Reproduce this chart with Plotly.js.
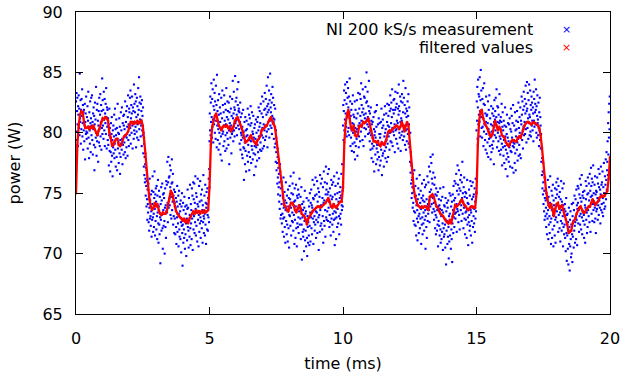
<!DOCTYPE html>
<html>
<head>
<meta charset="utf-8">
<script src="https://cdn.plot.ly/plotly-3.0.1.min.js"></script>
<style>html,body{margin:0;padding:0;background:#fff;}#chart{width:624px;height:376px;}</style>
</head>
<body>
<div id="chart"></div>
<script>
// sampling grid (ms)
const blueStart = 0, blueStep = 0.01;
const redStart = 0, redStep = 0.05;

// NI 200 kS/s measurement (W), 0-5 ms
const blueP1 = [
82.6,80.1,83.3,79.4,81.8,82.9,80.7,78.9,82.2,81.5,
83.1,80.4,82.0,79.8,84.9,81.2,80.9,82.7,79.1,81.9,
80.3,82.8,81.4,83.6,79.7,80.8,82.3,78.6,81.7,80.2,
81.9,79.3,80.6,82.4,77.8,80.9,81.6,79.9,83.0,80.1,
79.5,81.3,80.0,82.2,78.7,81.0,83.4,79.6,80.5,77.9,
81.7,80.2,79.1,82.6,80.8,78.4,81.2,82.9,79.8,80.6,
83.1,79.4,80.9,78.2,81.6,80.3,82.1,79.0,81.4,76.9,
80.7,82.5,78.8,81.1,79.6,83.8,80.0,78.1,81.9,79.3,
82.4,79.8,81.0,77.6,80.6,81.8,79.2,82.9,80.3,78.9,
81.5,83.2,79.7,80.9,82.3,78.6,81.8,80.4,84.5,79.9,
82.7,80.6,81.9,79.5,83.4,81.1,80.2,82.8,78.9,81.6,
80.8,82.4,79.9,83.7,81.3,78.7,82.1,80.5,81.9,79.4,
81.2,79.0,80.7,77.3,79.8,82.0,78.5,80.4,76.8,79.6,
78.4,80.8,77.6,79.9,81.3,78.1,79.4,76.4,80.2,78.8,
80.6,78.3,79.7,81.5,77.9,79.1,82.0,78.6,80.3,77.2,
79.8,81.1,78.0,80.4,76.9,79.5,82.4,78.7,80.0,79.2,
77.5,79.9,81.2,78.3,80.5,76.6,79.4,78.0,81.7,79.1,
80.2,78.6,82.1,79.5,77.4,80.8,79.0,81.4,78.2,80.6,
81.5,79.2,80.3,78.4,82.6,79.7,77.9,80.9,81.8,78.8,
79.6,82.2,80.5,78.1,81.3,83.1,79.4,80.7,78.9,82.0,
81.7,79.8,82.9,80.4,83.5,79.1,81.2,82.3,80.0,81.6,
83.0,80.6,78.7,82.1,80.9,81.8,79.5,84.0,80.2,82.4,
79.9,81.7,83.2,80.5,82.6,78.8,81.3,80.1,82.9,79.6,
82.2,80.7,81.5,83.7,79.4,81.9,84.6,80.3,82.5,80.8,
81.1,83.0,79.7,82.4,80.6,81.8,78.9,82.7,80.2,81.4,
79.8,82.1,78.3,80.0,77.2,79.1,76.5,78.0,75.9,77.4,
76.2,74.8,77.1,75.6,73.9,76.0,74.5,72.8,75.3,74.1,
73.4,75.8,72.6,74.7,71.9,73.8,76.2,72.9,74.4,73.1,
72.3,74.9,73.5,71.4,75.2,72.8,74.1,76.4,73.0,71.8,
75.1,73.3,72.2,74.6,76.8,73.7,71.5,74.9,72.7,75.4,
74.3,72.0,75.6,73.1,71.2,74.8,73.4,76.1,72.5,70.9,
73.9,75.2,72.4,71.6,74.7,73.0,69.2,74.1,72.8,75.5,
71.9,74.4,73.2,75.8,72.1,70.4,74.9,73.6,72.3,75.0,
74.6,72.7,70.0,73.8,75.4,72.2,74.0,71.3,76.0,73.5,
75.7,73.4,77.6,74.2,72.6,75.9,78.0,73.8,76.3,74.5,
76.4,74.0,77.3,75.5,73.2,76.9,74.7,72.9,75.8,77.8,
73.6,75.9,74.3,76.6,72.4,74.8,73.1,75.3,71.7,74.2,
72.9,75.1,71.6,73.8,74.6,72.2,70.8,74.3,73.0,75.6,
71.8,73.9,72.5,74.8,70.6,73.3,75.2,72.0,71.4,74.1,
73.5,71.2,74.4,72.6,70.1,73.9,72.3,75.0,71.7,69.0,
72.4,74.2,70.9,73.6,72.0,71.3,74.7,72.8,70.4,73.9,
71.6,73.3,72.5,69.8,74.0,72.9,71.1,73.7,75.3,72.2,
73.8,71.9,70.5,74.6,72.7,71.4,73.2,75.7,72.1,70.7,
74.1,72.5,73.6,71.2,75.4,72.9,74.8,70.3,73.3,75.9,
72.0,74.5,73.1,75.8,71.7,74.2,72.6,76.4,73.7,71.5,
75.0,72.3,74.7,73.4,71.0,74.1,76.2,72.8,73.9,70.6,
73.2,75.6,71.8,74.3,72.5,76.0,73.0,71.3,74.9,72.7,
74.4,72.1,75.3,73.6,70.9,74.0,72.6,76.5,73.1,71.7,
72.9,74.8,73.3,71.5,75.7,72.4,74.2,70.8,73.8,75.1,
74.1,72.0,75.4,73.2,71.9,74.6,73.0,76.2,72.6,77.0
];
// 5-10 ms
const blueP2 = [
79.3,81.6,80.2,83.0,79.8,82.5,80.9,84.1,81.3,79.6,
82.8,80.5,83.6,81.1,79.2,82.2,84.4,80.7,81.9,83.3,
80.0,82.6,81.4,79.5,83.9,81.0,82.3,78.8,84.8,80.6,
81.8,79.4,82.7,80.3,78.6,81.5,83.2,80.0,79.1,82.1,
80.9,78.2,81.6,79.7,82.9,80.4,77.7,81.2,83.5,79.9,
82.3,80.1,78.9,81.7,80.6,83.1,79.3,81.0,82.4,78.5,
79.8,81.9,80.7,83.7,78.7,81.3,80.0,82.6,79.5,81.8,
81.1,79.0,82.5,80.2,77.4,81.7,80.8,83.0,79.6,80.4,
82.0,80.6,78.3,81.4,79.9,82.8,80.1,84.3,81.2,79.3,
81.6,83.4,80.2,82.1,79.7,81.9,84.7,80.8,82.6,81.0,
80.4,82.9,81.5,79.8,83.6,81.1,82.3,80.6,84.2,81.8,
82.0,80.3,81.7,79.1,80.9,82.5,78.6,81.3,80.0,79.4,
79.8,81.6,78.2,80.5,77.9,79.6,81.9,78.8,80.1,76.1,
78.7,80.9,79.2,77.4,81.3,78.5,80.2,76.8,79.7,81.0,
80.3,78.1,79.8,82.0,77.6,79.0,80.7,78.4,81.5,76.9,
79.4,81.2,78.0,80.6,82.2,79.3,77.5,80.8,78.9,81.7,
78.6,80.1,77.8,79.9,81.4,78.3,79.6,76.5,80.4,78.9,
80.7,78.2,79.5,77.2,81.1,78.8,80.0,79.3,77.7,80.9,
79.0,81.3,78.4,80.2,82.1,79.7,77.9,80.5,81.8,78.6,
80.8,79.2,82.4,80.0,78.5,81.6,79.8,83.0,80.4,78.7,
81.3,79.6,82.6,80.7,78.9,81.9,80.2,83.3,79.4,82.0,
80.5,82.8,79.7,81.5,83.9,80.1,82.2,78.8,81.7,84.6,
82.4,80.3,81.9,83.5,79.6,82.7,81.0,84.9,80.6,82.1,
81.7,83.2,80.4,82.5,79.9,81.4,83.8,80.8,82.9,81.2,
80.9,79.5,82.3,81.1,78.8,80.4,82.0,79.1,77.6,80.2,
78.4,76.9,79.2,77.5,75.8,78.0,76.3,74.9,77.1,75.5,
76.6,74.3,75.9,73.7,77.4,74.8,72.9,75.4,73.2,76.0,
74.1,72.5,75.6,73.3,71.8,74.6,72.9,76.3,73.8,71.4,
73.0,75.1,72.2,74.4,70.9,73.6,75.9,72.7,74.2,71.6,
74.8,72.4,73.5,71.0,75.3,73.9,72.1,74.6,70.5,73.2,
75.6,73.1,74.5,72.3,76.4,73.8,71.5,75.0,74.2,72.7,
73.4,75.8,72.6,74.9,71.9,76.7,73.2,74.3,70.8,75.4,
72.8,74.4,71.3,73.9,75.7,72.1,73.6,70.6,74.8,72.5,
74.6,72.2,75.3,73.0,71.7,74.9,73.5,76.2,72.4,74.0,
72.9,74.7,71.2,73.7,75.5,72.4,69.5,74.1,73.0,71.8,
73.6,71.4,74.3,72.0,70.2,73.8,72.7,75.2,71.1,73.3,
71.9,73.5,70.6,72.8,74.6,71.3,69.8,73.1,72.2,70.9,
72.6,74.4,71.5,73.9,70.7,72.3,75.0,73.4,71.0,74.2,
73.0,75.3,72.1,74.0,71.6,73.8,76.1,72.9,74.6,70.8,
74.5,72.6,75.7,73.1,71.9,74.8,72.4,76.3,73.5,71.3,
72.8,74.9,73.4,76.0,71.7,74.3,72.6,75.4,73.0,70.3,
75.1,73.2,74.7,71.8,76.5,73.6,72.3,75.8,74.0,72.5,
73.9,76.2,72.0,74.6,73.1,75.5,70.9,74.2,76.8,72.7,
74.4,72.3,75.9,73.6,71.4,74.9,77.2,73.0,75.3,72.8,
75.8,73.5,74.9,76.6,72.7,75.1,73.8,77.0,74.3,72.2,
73.2,75.4,72.6,74.8,71.5,73.9,76.1,72.9,74.5,75.7,
72.4,74.7,73.3,75.9,71.8,74.1,72.8,76.4,73.5,70.7,
74.9,72.9,75.6,73.4,71.2,74.5,73.0,76.7,72.2,75.0,
73.7,75.8,72.5,74.3,76.2,73.1,71.6,75.1,74.6,72.9,
75.5,73.3,74.8,72.4,76.6,74.0,73.6,77.4,75.2,73.9
];
// 10-15 ms
const blueP3 = [
80.6,82.3,79.4,81.8,83.5,80.2,82.7,81.1,84.0,79.9,
81.6,83.3,80.5,82.4,79.7,84.2,81.3,82.9,80.1,83.7,
82.1,80.4,83.0,79.8,81.7,84.5,80.9,82.6,78.9,81.4,
79.6,81.9,80.2,78.5,82.4,80.8,79.1,83.1,80.0,81.5,
80.7,78.4,81.3,79.2,82.6,77.8,80.4,81.9,78.9,80.1,
81.2,79.5,82.7,80.3,78.1,81.6,79.9,83.3,80.6,78.8,
79.7,82.0,80.8,83.2,79.3,81.4,82.8,80.1,84.1,81.0,
82.3,80.6,81.7,79.4,83.6,80.9,82.0,78.9,81.5,83.0,
80.4,82.9,81.2,79.7,83.8,81.6,80.3,82.5,85.0,81.1,
82.6,80.7,83.4,81.3,79.9,82.2,80.5,84.3,81.8,80.0,
79.3,81.6,80.2,78.6,82.1,79.8,81.0,77.9,80.7,79.1,
78.7,80.9,79.5,77.6,81.3,78.9,80.3,76.8,79.8,81.7,
80.1,78.2,79.6,81.8,77.4,80.5,78.7,82.3,79.0,77.8,
78.4,80.7,79.3,76.9,81.2,78.0,79.9,80.8,77.3,79.6,
79.9,77.7,80.9,78.6,82.0,79.2,76.5,80.4,78.1,81.1,
78.3,80.6,79.0,77.2,81.5,79.7,78.5,82.2,80.0,77.9,
80.3,78.8,81.6,79.4,77.6,80.9,82.4,79.1,80.6,78.0,
81.4,79.7,82.3,80.5,78.6,81.8,80.0,83.1,79.3,82.0,
80.8,82.5,79.2,81.3,83.6,80.4,78.9,81.9,80.1,82.7,
81.6,79.8,82.8,80.7,78.4,81.9,83.4,80.2,82.1,79.5,
80.3,82.4,81.0,79.1,83.3,80.8,82.0,78.7,81.5,84.0,
82.2,80.0,81.8,79.6,83.0,80.9,78.5,82.6,81.2,79.8,
81.0,83.2,80.1,82.5,79.4,81.7,84.3,80.6,82.9,79.7,
80.5,82.3,79.0,81.6,83.7,80.2,78.6,82.0,81.3,79.3,
81.8,80.3,82.6,79.9,81.4,83.2,79.1,80.7,82.1,78.8,
79.2,77.6,80.0,76.7,78.4,75.8,77.3,74.6,76.1,75.0,
75.5,73.8,76.6,74.2,72.7,75.1,73.5,76.9,72.4,74.7,
73.4,75.6,72.3,74.8,71.5,74.0,76.2,72.9,73.6,71.1,
74.5,72.6,75.4,73.1,71.7,74.9,73.3,76.5,72.1,74.2,
72.9,75.2,73.7,70.8,74.6,72.4,75.8,73.0,71.6,74.4,
74.8,72.5,73.4,76.1,71.9,74.3,72.8,75.5,73.6,70.4,
73.1,75.7,72.2,74.5,71.3,73.9,76.4,72.7,74.1,73.3,
75.9,73.6,77.2,74.4,72.6,75.1,76.8,73.9,78.0,74.7,
75.3,77.5,74.1,76.2,73.4,75.8,78.2,74.6,76.7,73.7,
74.2,72.8,75.7,73.5,76.3,72.1,74.9,73.2,71.6,75.4,
73.0,74.8,71.9,73.6,72.4,75.1,70.6,73.9,72.7,74.5,
72.3,74.0,71.5,73.7,75.4,72.0,70.9,74.4,73.1,71.2,
73.6,71.8,74.7,72.5,70.3,73.4,75.5,72.1,71.4,74.0,
71.6,73.9,72.4,70.5,74.6,72.8,69.1,73.5,71.9,74.2,
72.7,70.8,73.8,71.4,74.4,72.2,69.6,73.1,71.0,75.0,
73.3,71.5,72.6,74.8,70.4,73.9,72.0,71.2,74.3,69.3,
72.5,74.9,73.6,71.7,75.6,73.0,74.4,72.2,76.0,73.3,
74.6,72.9,75.8,73.4,76.6,74.1,71.8,75.2,73.7,77.3,
73.5,75.7,72.6,74.9,76.9,73.2,75.4,72.0,74.3,76.1,
75.2,73.6,76.5,74.0,72.7,75.9,74.6,77.6,73.3,75.0,
74.3,72.1,75.5,73.8,76.3,72.9,74.7,71.6,75.1,73.4,
72.8,75.0,73.5,71.3,74.6,76.1,72.4,74.2,73.0,70.7,
74.1,72.6,75.3,73.2,71.9,74.8,72.3,76.0,73.6,71.5,
73.4,75.6,72.7,74.5,70.9,73.8,75.9,72.2,74.7,73.1,
74.9,72.5,73.7,75.4,71.8,74.3,72.9,76.2,73.5,75.1
];
// 15-20 ms
const blueP4 = [
80.2,82.6,81.0,83.8,79.5,82.1,84.4,80.7,83.2,81.5,
83.0,80.9,84.6,81.8,79.7,82.7,85.2,81.3,83.5,80.4,
81.9,79.6,82.8,80.5,83.7,81.2,78.9,82.4,80.1,84.1,
80.7,82.3,79.4,81.6,78.6,80.9,83.0,79.9,81.4,78.3,
81.5,79.2,80.8,82.6,78.0,80.3,81.9,79.5,83.1,80.0,
78.9,81.2,79.6,77.8,80.7,82.2,78.4,80.1,79.0,81.6,
80.6,78.7,82.0,79.3,81.4,77.4,80.9,82.7,79.8,81.1,
81.8,80.2,82.9,79.6,81.3,83.6,80.5,78.8,82.2,80.9,
80.0,82.1,79.3,81.5,78.5,80.8,83.2,79.7,81.0,78.2,
79.5,81.3,78.6,80.9,82.4,79.1,77.3,80.5,81.7,78.8,
80.2,78.1,81.0,79.4,77.5,80.6,78.9,82.1,79.7,77.0,
78.6,80.5,77.8,79.9,81.5,78.3,76.4,79.6,80.8,78.0,
79.3,77.6,80.7,78.8,81.2,79.0,77.2,80.3,78.5,82.0,
80.1,78.4,81.4,79.6,77.1,80.8,78.9,82.3,79.2,76.7,
78.8,80.6,79.1,77.5,81.7,78.3,80.2,76.9,79.7,81.0,
80.3,78.6,81.8,79.2,77.7,80.9,79.5,82.5,78.1,80.4,
79.0,81.3,80.0,78.2,82.1,79.6,77.9,81.0,80.7,83.0,
81.5,79.4,82.6,80.2,78.7,81.9,80.5,83.4,79.8,82.2,
80.9,82.8,79.9,81.6,83.9,80.3,82.4,79.2,81.8,84.2,
82.0,80.4,83.3,81.2,79.5,82.7,80.8,84.0,81.5,79.8,
81.3,83.5,80.1,82.3,79.7,81.9,83.0,80.6,82.5,81.0,
80.2,82.1,81.6,79.3,83.4,81.0,82.8,80.5,84.4,81.7,
82.4,80.7,81.9,83.6,80.0,82.2,79.6,81.4,83.1,80.8,
81.1,79.8,82.5,80.4,78.9,81.7,80.2,82.9,79.4,81.3,
80.6,78.7,79.9,77.6,78.8,76.5,77.9,75.4,76.8,74.9,
75.9,74.1,76.7,73.5,75.2,72.8,74.6,76.3,73.1,74.4,
73.8,72.2,75.0,73.3,71.6,74.5,72.9,76.1,73.6,71.2,
74.7,72.4,75.5,73.1,71.7,74.2,76.4,72.6,73.9,70.8,
72.9,75.2,73.6,71.3,74.8,72.0,75.7,73.2,70.6,74.4,
74.0,72.3,73.7,71.5,75.4,72.8,70.9,74.6,73.0,75.9,
75.3,73.5,74.9,72.6,76.2,74.0,71.8,75.6,73.2,74.7,
73.9,72.1,75.1,73.4,71.0,74.5,72.7,76.0,73.6,71.9,
74.3,72.5,75.4,73.1,70.6,74.0,72.2,75.8,71.6,73.7,
72.4,74.1,71.3,73.5,70.2,72.8,74.6,71.7,69.4,73.2,
71.5,73.3,70.4,72.6,69.1,71.9,73.8,70.8,72.2,68.6,
72.8,70.6,73.5,71.2,69.7,72.4,70.0,74.1,71.6,69.3,
73.1,71.4,74.2,72.7,70.5,73.6,71.9,74.8,72.3,70.9,
72.6,74.5,73.0,71.2,75.3,72.8,74.0,70.7,73.7,75.6,
74.2,72.5,75.4,73.6,71.8,74.9,73.1,76.2,72.4,74.6,
73.3,75.7,72.0,74.3,76.5,73.0,71.6,74.8,73.5,75.1,
72.7,74.6,73.2,71.3,75.2,72.4,74.0,70.9,73.8,76.0,
74.5,72.8,75.6,73.4,71.7,74.9,72.2,76.3,73.6,75.0,
73.1,75.8,74.4,72.6,76.6,73.9,75.2,71.8,74.7,77.1,
75.6,73.3,76.2,74.8,72.7,75.9,74.1,77.3,73.6,75.0,
74.3,72.6,75.7,73.8,76.4,72.9,74.9,71.7,75.2,73.5,
75.1,73.7,76.3,74.6,72.8,75.8,74.0,77.0,73.2,75.5,
74.4,76.6,73.8,75.3,72.5,74.9,77.2,73.6,75.7,74.1,
75.9,73.4,76.8,74.6,73.1,75.5,74.2,77.5,75.0,73.7,
74.8,76.4,73.9,75.7,77.8,74.5,76.1,78.4,75.3,76.9,
77.6,79.3,76.5,80.8,78.2,81.7,79.6,82.4,80.3,83.0
];

// filtered values (W), one every 0.05 ms
const redP1 = [
75.0,79.0,80.6,81.5,81.8,81.7,80.9,80.4,80.4,80.5,
80.3,80.5,80.4,80.6,80.3,80.0,79.8,80.2,80.5,80.9,
81.2,81.1,81.3,81.2,81.0,80.0,79.6,78.9,79.0,79.3,
79.5,79.5,79.0,78.9,79.0,79.4,79.7,79.8,79.9,80.1,
80.6,80.9,80.9,80.7,80.9,80.8,81.0,80.8,80.9,81.0,
80.6,79.6,78.3,76.9,75.3,74.5,73.9,73.6,73.8,74.2,
73.9,74.1,73.6,73.3,73.2,73.4,73.3,73.3,73.5,74.2,
74.6,75.2,75.0,74.4,73.9,73.5,73.3,73.1,73.0,72.9,
72.7,72.9,72.6,72.8,72.5,72.9,73.1,73.3,73.5,73.3,
73.6,73.4,73.5,73.3,73.5,73.4,73.6,73.4,73.5,73.6
];
const redP2 = [
75.5,79.0,80.5,81.0,81.4,81.6,81.0,80.6,80.4,80.2,
80.5,80.6,80.5,80.6,80.4,80.5,80.1,80.3,80.5,81.0,
81.2,81.3,81.0,80.7,80.4,80.1,79.6,79.2,79.3,79.4,
79.6,79.8,79.5,79.3,79.2,79.0,79.4,79.5,79.7,80.2,
80.3,80.4,80.6,80.6,80.9,81.1,81.3,81.0,80.7,80.5,
79.6,78.7,77.8,76.8,75.9,74.8,74.0,73.9,73.6,73.5,
73.9,74.2,74.2,74.0,73.6,73.4,73.7,74.0,73.8,73.3,
73.2,73.1,72.8,72.4,72.9,73.1,73.3,73.5,73.6,73.7,
73.8,73.9,73.9,73.8,73.9,74.0,74.1,74.2,74.4,74.6,
74.3,73.9,73.8,74.1,73.9,73.8,74.0,74.2,74.3,74.3
];
const redP3 = [
75.5,79.2,80.8,81.5,81.9,81.2,80.4,80.2,80.6,79.8,
79.7,79.8,80.5,80.6,80.5,80.9,80.8,80.9,81.0,81.2,
80.7,80.2,79.6,79.3,79.3,79.2,79.3,79.0,78.9,79.2,
79.1,79.0,79.3,79.7,80.1,80.2,80.1,80.3,80.4,80.5,
80.6,80.5,80.3,80.5,80.9,80.6,80.1,80.6,80.9,80.6,
79.2,77.5,76.3,75.4,74.7,74.3,74.0,73.9,73.8,73.9,
73.8,73.9,73.9,73.7,73.6,74.7,74.8,74.9,74.7,74.3,
73.9,73.8,73.5,73.3,73.2,73.1,72.9,72.7,72.6,72.5,
72.8,72.5,73.1,73.6,74.0,73.9,74.0,74.1,74.3,74.5,
74.2,74.0,73.9,73.7,73.6,73.8,73.9,73.9,73.8,73.8
];
const redP4 = [
75.0,79.0,81.0,81.8,81.9,81.2,80.8,80.6,80.4,80.1,
79.8,79.7,79.9,80.5,81.0,80.6,80.2,80.5,80.3,79.8,
79.7,79.6,79.2,79.0,78.9,79.1,79.3,79.4,79.4,79.3,
79.3,79.6,79.7,79.6,79.9,80.3,80.6,80.8,80.9,80.9,
80.8,80.7,80.8,80.9,80.8,80.7,80.6,80.4,79.8,78.8,
77.5,76.3,75.3,74.6,74.0,73.8,74.1,73.6,73.1,73.7,
74.1,74.2,73.7,73.9,74.0,73.6,73.2,72.8,72.4,71.7,
71.8,71.9,72.5,72.7,72.9,73.3,73.6,73.8,73.9,73.6,
73.4,73.4,73.6,73.7,73.9,73.9,74.2,74.5,74.3,74.0,
74.2,74.3,74.6,74.7,74.8,74.7,74.8,75.0,75.2,76.2,
78.0
];

const seriesNames = ["NI 200 kS/s measurement", "filtered values"];
const xTitle = "time (ms)";
const yTitle = "power (W)";

const blue = [].concat(blueP1, blueP2, blueP3, blueP4);
const red = [].concat(redP1, redP2, redP3, redP4);

const FONT = "DejaVu Sans, Verdana, sans-serif";
const FS = 16;

const traces = [
  {type: "scatter", mode: "markers", name: seriesNames[0], y: blue, x0: blueStart, dx: blueStep,
   marker: {color: "#0000ff", size: 2.1, symbol: "square", line: {width: 0}}, showlegend: false},
  {type: "scatter", mode: "lines+markers", name: seriesNames[1], y: red, x0: redStart, dx: redStep,
   line: {color: "#ff0000", width: 2.3}, marker: {color: "#ff0000", size: 2.4}, showlegend: false}
];

const axisCommon = {
  showline: true, linecolor: "#000", linewidth: 1, mirror: "ticks",
  ticks: "inside", ticklen: 7, tickwidth: 1, tickcolor: "#000",
  showgrid: false, zeroline: false, tickfont: {family: FONT, size: FS, color: "#000"},
  automargin: false, dtick: 5
};

const layout = {
  width: 624, height: 376,
  margin: {l: 76, r: 14, t: 12, b: 62},
  paper_bgcolor: "#fff", plot_bgcolor: "#fff",
  font: {family: FONT, size: FS, color: "#000"},
  xaxis: Object.assign({}, axisCommon, {range: [0, 20], tick0: 0, ticklabelstandoff: 10,
    title: {text: xTitle, font: {family: FONT, size: FS, color: "#000"}, standoff: 10}}),
  yaxis: Object.assign({}, axisCommon, {range: [65, 90], tick0: 65, ticklabelstandoff: 9,
    title: {text: yTitle, font: {family: FONT, size: FS, color: "#000"}, standoff: 17}}),
  showlegend: false,
  annotations: [
    {xref: "paper", yref: "paper", x: 0.8596, y: 0.9437, xanchor: "right", yanchor: "middle",
     text: seriesNames[0], showarrow: false, font: {family: FONT, size: FS, color: "#000"}},
    {xref: "paper", yref: "paper", x: 0.8596, y: 0.8808, xanchor: "right", yanchor: "middle",
     text: seriesNames[1], showarrow: false, font: {family: FONT, size: FS, color: "#000"}},
    {xref: "paper", yref: "paper", x: 0.9189, y: 0.9437, xanchor: "center", yanchor: "middle",
     text: "×", showarrow: false, font: {family: FONT, size: 11, color: "#0000ff"}},
    {xref: "paper", yref: "paper", x: 0.9189, y: 0.8808, xanchor: "center", yanchor: "middle",
     text: "×", showarrow: false, font: {family: FONT, size: 11, color: "#ff0000"}}
  ]
};

Plotly.newPlot("chart", traces, layout, {displayModeBar: false, staticPlot: true});
</script>
</body>
</html>
